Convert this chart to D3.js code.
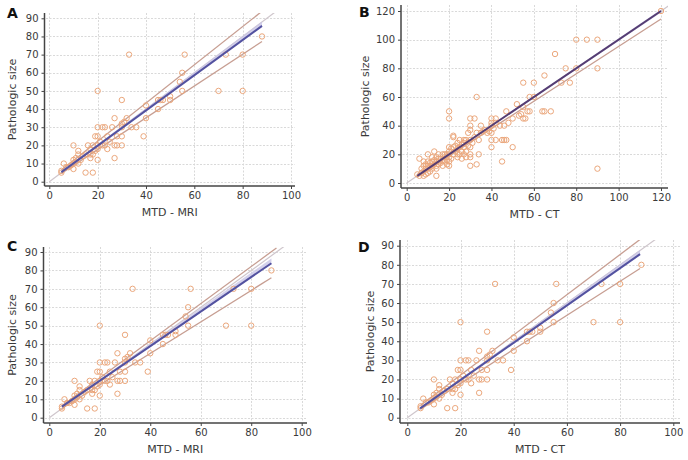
<!DOCTYPE html>
<html><head><meta charset="utf-8">
<script src="https://cdn.jsdelivr.net/npm/d3@7"></script>
<style>
body{margin:0;background:#fff}
svg{display:block}
text{font-family:"DejaVu Sans",Verdana,sans-serif}
</style>
</head><body>
<svg id="chart" width="688" height="460"></svg>
<script>
// ---------- data ----------
const panelLetters = ["A", "B", "C", "D"];
const xTitles = ["MTD - MRI", "MTD - CT", "MTD - MRI", "MTD - CT"];
const yTitle = "Pathologic size";
const xTicks100 = [0, 20, 40, 60, 80, 100];
const yTicks90 = [0, 10, 20, 30, 40, 50, 60, 70, 80, 90];
const ticks120 = [0, 20, 40, 60, 80, 100, 120];

// MRI / CT (panels A, C, D) measured tumour diameter vs pathologic size
const mriPoints = [
  [5,5],[5,6],[6,10],[7,8],[8,8],[9,9],[10,7],[10,10],[10,12],[10,20],[11,11],[11,13],
  [12,10],[12,15],[12,17],[13,12],[14,14],[15,5],[15,15],[16,20],[17,13],[17,15],[17,18],
  [18,5],[18,15],[18,20],[19,17],[19,25],[20,12],[20,18],[20,20],[20,25],[20,30],[20,50],
  [21,22],[22,20],[22,30],[23,30],[23,20],[24,18],[24,25],[25,22],[26,30],[27,20],[27,35],
  [27,13],[28,20],[28,25],[30,20],[30,25],[30,30],[30,32],[30,45],[31,33],[32,35],[33,70],
  [34,30],[36,30],[39,25],[40,35],[40,42],[45,40],[45,45],[46,45],[47,45],[50,45],[50,47],
  [54,55],[55,50],[55,60],[56,70],[70,50],[73,70],[80,50],[80,70],[88,80]
];
// CT (panel B)
const ctPoints = [
  [5,6],[6,5],[6,17],[7,7],[7,10],[8,5],[8,8],[8,12],[8,15],[9,6],[9,10],[9,13],[10,7],[10,10],
  [10,12],[10,15],[10,20],[11,8],[11,11],[11,14],[12,10],[12,12],[12,15],[12,18],[13,13],[13,16],
  [13,22],[14,5],[14,10],[14,12],[14,15],[14,18],[15,13],[15,15],[15,17],[15,20],[16,14],[16,17],
  [17,12],[17,16],[17,20],[18,15],[18,18],[18,20],[19,13],[19,16],[19,20],[20,12],[20,15],[20,18],
  [20,20],[20,22],[20,25],[20,45],[20,50],[21,17],[21,24],[22,20],[22,25],[22,32],[22,33],[23,22],
  [23,26],[24,18],[24,20],[24,24],[24,28],[25,20],[25,25],[25,30],[26,17],[26,22],[26,27],[27,20],
  [27,25],[27,28],[27,30],[28,18],[28,22],[28,30],[29,26],[29,35],[30,12],[30,18],[30,20],[30,25],
  [30,30],[30,37],[30,40],[30,45],[31,28],[32,32],[32,45],[33,13],[33,35],[33,60],[34,20],[34,30],
  [35,35],[35,40],[36,36],[37,37],[38,35],[39,36],[40,25],[40,30],[40,35],[40,40],[40,42],[40,45],
  [41,38],[42,30],[42,42],[42,45],[44,40],[45,15],[45,30],[46,30],[46,40],[47,30],[47,50],[48,42],
  [50,25],[50,45],[52,55],[53,47],[54,48],[55,45],[55,53],[55,70],[56,45],[57,50],[58,50],[58,60],
  [60,60],[60,70],[64,50],[65,50],[65,75],[68,50],[70,90],[73,70],[75,80],[77,70],[80,80],[80,100],
  [85,100],[90,10],[90,80],[90,100],[120,120]
];

// fitted lines, as [start, end] in data units
const identityLine = [[0,0],[130,130]];
const regLines   = [[[5,5.25],[88,85.8]], [[5,5],[120,120]], [[5,6.0],[88,83.9]], [[4.8,4.9],[87.5,85.6]]];
const upperLines = [[[5,6.4],[90,96]], null, [[5,6.5],[90,92.2]], [[5,6.5],[90,95.9]]];
const lowerLines = [[[5,4.6],[88,77.2]], [[5,4.5],[120,114.4]], [[5,5.0],[88,76.0]], [[5,4.5],[87.5,78.1]]];
// confidence band around regression: [x, low, high]
const bands = [
  [[5,5.0,5.6],[88,85.2,88.2]],
  [[5,4.8,5.3],[120,119,121]],
  [[5,5.7,6.3],[88,83.3,86.5]],
  [[4.8,4.6,5.2],[87.5,85.0,87.8]]
];

// ---------- layout ----------
const layouts = [
  {x0:49.3, x100:291,   yZero:181.7, yTopVal:18.3, xMax:100, yMax:90, axisX:44.5, axisY:186, top:13, right:295, letter:[7,18], ytx:12},
  {x0:406.7,x100:661,   yZero:183,   yTopVal:11,   xMax:120, yMax:120,axisX:401,  axisY:188, top:5,  right:668, letter:[359,17], ytx:365},
  {x0:49.3, x100:301.7, yZero:417.7, yTopVal:252,  xMax:100, yMax:90, axisX:43.5, axisY:423, top:247,right:307, letter:[7,251], ytx:12},
  {x0:407.3,x100:673.3, yZero:417.7, yTopVal:245.7,xMax:100, yMax:90, axisX:400,  axisY:423, top:240,right:680, letter:[358,252], ytx:370}
];
const pointSets = [mriPoints, ctPoints, mriPoints, mriPoints];

const svg = d3.select("#chart");
const defs = svg.append("defs");

layouts.forEach((L, i) => {
  const x = d3.scaleLinear().domain([0, L.xMax]).range([L.x0, L.x100]);
  const y = d3.scaleLinear().domain([0, L.yMax]).range([L.yZero, L.yTopVal]);
  const xt = L.xMax === 120 ? ticks120 : xTicks100;
  const yt = L.yMax === 120 ? ticks120 : yTicks90;
  const g = svg.append("g");
  const left = L.axisX + 1.5, bottom = L.axisY - 2;

  // grid
  const grid = g.append("g").attr("stroke", "#d9d9d9").attr("stroke-width", 1).attr("stroke-dasharray", "2,1.5");
  grid.selectAll(".h").data(yt).join("line")
    .attr("x1", left).attr("x2", L.right).attr("y1", d => Math.round(y(d)) + 0.5).attr("y2", d => Math.round(y(d)) + 0.5);
  grid.selectAll(".v").data(xt).join("line")
    .attr("y1", L.top).attr("y2", bottom).attr("x1", d => Math.round(x(d)) + 0.5).attr("x2", d => Math.round(x(d)) + 0.5);

  // clip
  const cid = "clip" + i;
  defs.append("clipPath").attr("id", cid).append("rect")
    .attr("x", left).attr("y", L.top).attr("width", L.right - left).attr("height", bottom - L.top);
  const plot = g.append("g").attr("clip-path", `url(#${cid})`);

  const line = d3.line().x(d => x(d[0])).y(d => y(d[1]));

  // identity line
  plot.append("path").attr("d", line(identityLine)).attr("fill", "none")
    .attr("stroke", "#cfc6cc").attr("stroke-width", 1.2);

  // confidence band
  const area = d3.area().x(d => x(d[0])).y0(d => y(d[1])).y1(d => y(d[2]));
  plot.append("path").attr("d", area(bands[i])).attr("fill", "#c9c6e6").attr("opacity", 0.8);

  // upper/lower lines
  [upperLines[i], lowerLines[i]].forEach(l => {
    if (!l) return;
    plot.append("path").attr("d", line(l)).attr("fill", "none")
      .attr("stroke", "#c79e92").attr("stroke-width", 1.3);
  });

  // points
  plot.append("g").selectAll("circle").data(pointSets[i]).join("circle")
    .attr("cx", d => x(d[0])).attr("cy", d => y(d[1])).attr("r", 2.7)
    .attr("fill", "none").attr("stroke", "#eba77c").attr("stroke-width", 1);

  // regression
  plot.append("path").attr("d", line(regLines[i])).attr("fill", "none")
    .attr("stroke", i === 1 ? "#553d73" : "#5352a0").attr("stroke-width", 2);

  // axes
  const yAxis = d3.axisLeft(y).tickValues(yt).tickSize(3).tickPadding(3).tickFormat(d3.format("d"));
  const xAxis = d3.axisBottom(x).tickValues(xt).tickSize(3).tickPadding(3).tickFormat(d3.format("d"));
  const ya = g.append("g").attr("transform", `translate(${L.axisX},0)`).call(yAxis);
  const xa = g.append("g").attr("transform", `translate(0,${L.axisY})`).call(xAxis);
  [ya, xa].forEach(a => {
    a.select(".domain").remove();
    a.selectAll(".tick line").attr("stroke", "#444");
    a.selectAll("text").attr("fill", "#3a3a3a").style("font-size", "10px");
  });
  xa.selectAll("text").attr("dy", "0.71em");
  g.append("line").attr("x1", L.axisX).attr("x2", L.axisX).attr("y1", L.top).attr("y2", L.axisY)
    .attr("stroke", "#444").attr("stroke-width", 1.5);
  g.append("line").attr("x1", L.axisX).attr("x2", L.right).attr("y1", L.axisY).attr("y2", L.axisY)
    .attr("stroke", "#444").attr("stroke-width", 1.5);

  // titles
  g.append("text").attr("x", (L.axisX + L.right) / 2).attr("y", L.axisY + 30)
    .attr("text-anchor", "middle").style("font-size", "11px").attr("fill", "#3a3a3a").text(xTitles[i]);
  g.append("text").attr("transform", `translate(${L.ytx},${(L.top + L.axisY) / 2}) rotate(-90)`)
    .attr("text-anchor", "middle").attr("dy", "0.35em").style("font-size", "11px").attr("fill", "#3a3a3a").text(yTitle);
  g.append("text").attr("x", L.letter[0]).attr("y", L.letter[1])
    .style("font-size", "14px").style("font-weight", "bold").attr("fill", "#111").text(panelLetters[i]);
});
</script>
</body></html>
